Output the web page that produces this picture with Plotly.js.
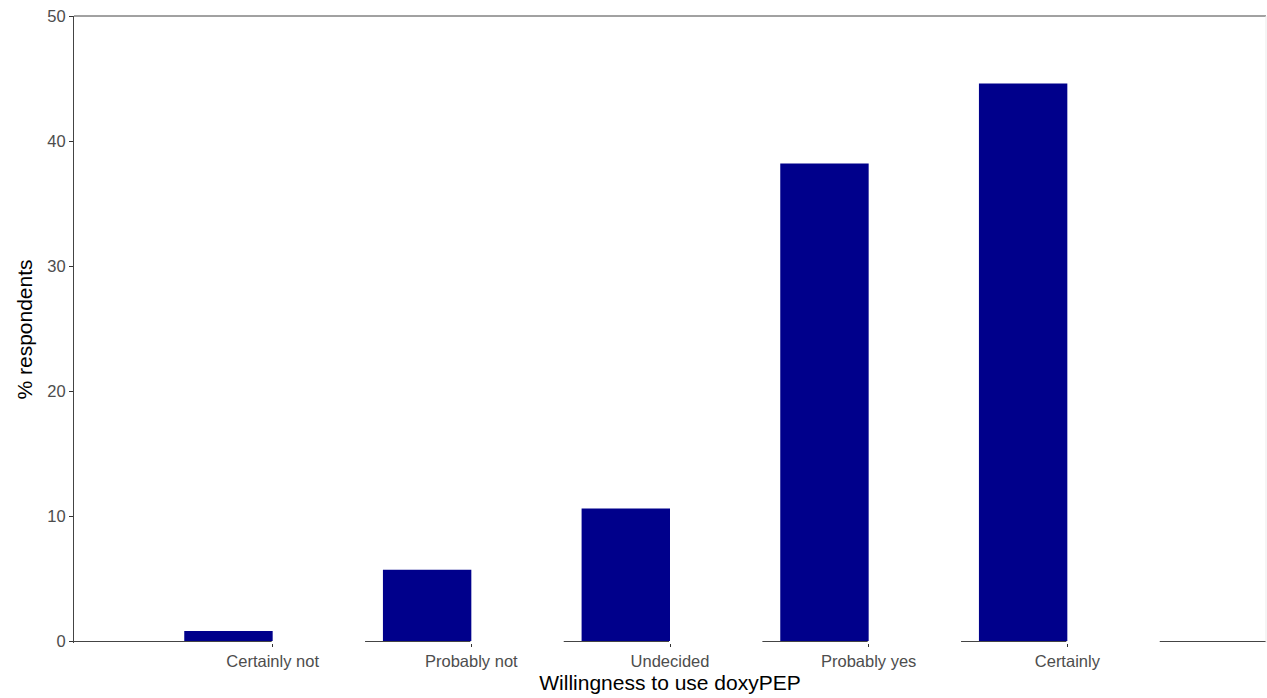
<!DOCTYPE html>
<html>
<head>
<meta charset="utf-8">
<script src="https://cdn.plot.ly/plotly-3.0.1.min.js"></script>
<style>html,body{margin:0;padding:0;background:#fff;}#chart{width:1267px;height:698px;}</style>
</head>
<body>
<div id="chart"></div>
<script>
var categories = ["Certainly not", "Probably not", "Undecided", "Probably yes", "Certainly"];
var willingness = [0.8, 5.7, 10.6, 38.2, 44.6];
var comparison = [0.5, 14.5, 21.2, 33.5, 30.3];
var yTicks = [0, 10, 20, 30, 40, 50];

var traces = [
  {
    type: "bar",
    x: categories,
    y: comparison,
    width: 0.46,
    offset: 0,
    marker: {color: "#ffffff", line: {color: "#ffffff", width: 2}},
    hoverinfo: "skip",
    showlegend: false
  },
  {
    type: "bar",
    x: categories,
    y: willingness,
    width: 0.445,
    offset: -0.445,
    marker: {color: "#00008B", line: {width: 0}},
    showlegend: false
  }
];

var layout = {
  width: 1267,
  height: 698,
  margin: {l: 74, r: 1, t: 16, b: 55},
  paper_bgcolor: "#ffffff",
  plot_bgcolor: "#ffffff",
  barmode: "overlay",
  font: {family: "Liberation Sans, Arial, sans-serif"},
  xaxis: {
    type: "category",
    categoryorder: "array",
    categoryarray: categories,
    range: [-1, 5],
    showline: false,
    showgrid: false,
    zeroline: false,
    ticks: "outside",
    ticklen: 3,
    tickwidth: 1,
    tickcolor: "#333333",
    tickfont: {size: 16.5, color: "#4d4d4d"},
    title: {text: "Willingness to use doxyPEP", font: {size: 21, color: "#000000"}, standoff: 6}
  },
  yaxis: {
    range: [-0.16, 50],
    tickvals: yTicks,
    showline: true,
    linecolor: "#444444",
    linewidth: 1,
    showgrid: false,
    zeroline: true,
    zerolinecolor: "#444444",
    zerolinewidth: 1,
    ticks: "outside",
    ticklen: 4,
    tickwidth: 1,
    tickcolor: "#333333",
    tickfont: {size: 16.5, color: "#4d4d4d"},
    title: {text: "% respondents", font: {size: 21, color: "#000000"}, standoff: 8}
  },
  shapes: [
    {type: "line", xref: "paper", yref: "paper", x0: 0, x1: 1, y0: 1, y1: 1,
     line: {color: "#444444", width: 1}},
    {type: "line", xref: "paper", yref: "paper", x0: 1, x1: 1, y0: 0, y1: 1,
     line: {color: "#ebebeb", width: 1}}
  ]
};

Plotly.newPlot("chart", traces, layout, {displayModeBar: false, staticPlot: true});
</script>
</body>
</html>
